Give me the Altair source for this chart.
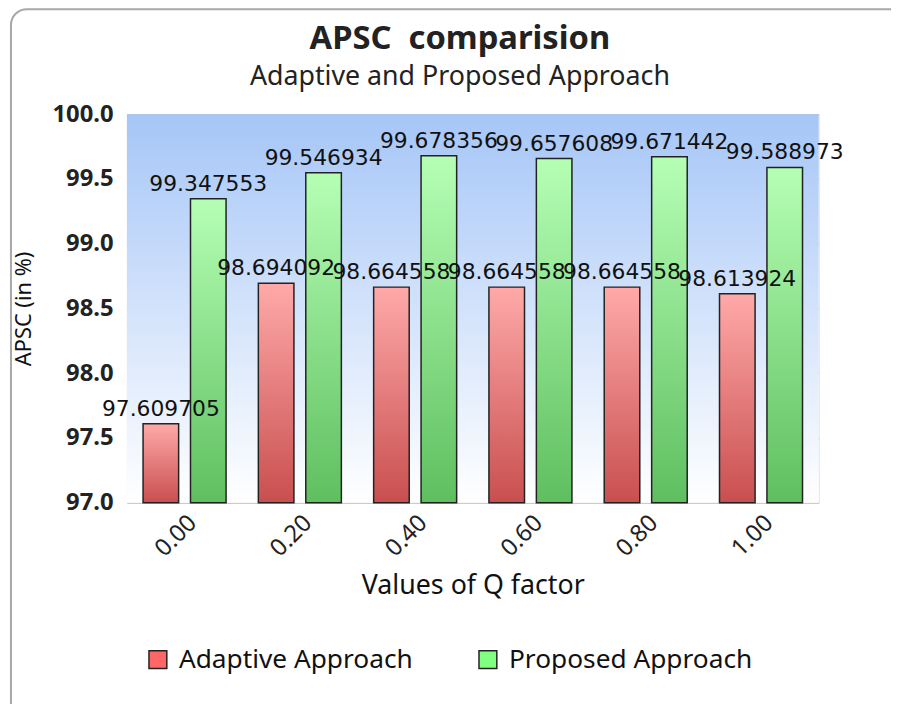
import altair as alt
import pandas as pd

q_labels = ["0.00", "0.20", "0.40", "0.60", "0.80", "1.00"]
adaptive = [97.609705, 98.694092, 98.664558, 98.664558, 98.664558, 98.613924]
proposed = [99.347553, 99.546934, 99.678356, 99.657608, 99.671442, 99.588973]
series_names = ["Adaptive Approach", "Proposed Approach"]
y_ticks = [97.0, 97.5, 98.0, 98.5, 99.0, 99.5, 100.0]
y_domain = [97.0, 100.0]

rows = []
for q, a, p in zip(q_labels, adaptive, proposed):
    rows.append({"q": q, "series": series_names[0], "value": a})
    rows.append({"q": q, "series": series_names[1], "value": p})
df = pd.DataFrame(rows)

W, H = 698, 392
FONT = "Noto Sans"

x_enc = alt.X(
    "q:N", sort=q_labels, title="Values of Q factor",
    scale=alt.Scale(paddingInner=0.28, paddingOuter=0.14),
    axis=alt.Axis(labelAngle=-45, labelFont=FONT, labelFontSize=24, labelColor="#222222",
                  ticks=False, domain=False, labelPadding=8, titleFont=FONT, titleFontSize=27,
                  titleFontWeight="normal", titleColor="#111111", titlePadding=12),
)
xo_enc = alt.XOffset("series:N", sort=series_names,
                     scale=alt.Scale(paddingInner=0.25, paddingOuter=0))
y_enc = alt.Y(
    "value:Q", title="APSC (in %)",
    scale=alt.Scale(domain=y_domain, zero=False, nice=False),
    axis=alt.Axis(values=y_ticks, format=".1f", labelFont=FONT, labelFontSize=24,
                  labelFontWeight="bold", labelColor="#222222", ticks=False, domain=False,
                  labelPadding=14, gridColor="#d0ccc4", gridWidth=1.5, titleFont=FONT,
                  titleFontSize=22, titleFontWeight="normal", titleColor="#111111",
                  titlePadding=17),
)

bg = alt.Chart(pd.DataFrame({"a": [0]})).mark_rect(
    color=alt.Gradient(gradient="linear", x1=0, y1=0, x2=0, y2=1,
                       stops=[alt.GradientStop(color="#a6c6f7", offset=0),
                              alt.GradientStop(color="#ffffff", offset=1)])
).encode(x=alt.value(0), x2=alt.value(W), y=alt.value(0), y2=alt.value(H))

frame = alt.Chart(pd.DataFrame({"a": [0]})).mark_rect(
    fill=None, stroke="#a8a8a8", strokeWidth=2, cornerRadius=16, clip=False
).encode(x=alt.value(-117), x2=alt.value(W + 120), y=alt.value(-106), y2=alt.value(H + 260))

base = alt.Chart(df).encode(x=x_enc, xOffset=xo_enc, y=y_enc)

red_grad = alt.Gradient(gradient="linear", x1=0, y1=0, x2=0, y2=1,
                        stops=[alt.GradientStop(color="#ffa9a9", offset=0),
                               alt.GradientStop(color="#c94f4f", offset=1)])
green_grad = alt.Gradient(gradient="linear", x1=0, y1=0, x2=0, y2=1,
                          stops=[alt.GradientStop(color="#b5ffb5", offset=0),
                                 alt.GradientStop(color="#5fbf5f", offset=1)])

bars_a = base.transform_filter(alt.datum.series == series_names[0]).mark_bar(
    color=red_grad, stroke="#222222", strokeWidth=1.5
).encode(y2=alt.datum(y_domain[0]))
bars_p = base.transform_filter(alt.datum.series == series_names[1]).mark_bar(
    color=green_grad, stroke="#222222", strokeWidth=1.5
).encode(y2=alt.datum(y_domain[0]))

legend_layer = base.mark_square(opacity=0, size=10).encode(
    fill=alt.Fill("series:N", sort=series_names,
                  scale=alt.Scale(domain=series_names, range=["#ff6666", "#80ff80"]),
                  legend=alt.Legend(title=None, orient="none", legendX=18, legendY=537,
                                    direction="horizontal", symbolType="square",
                                    symbolSize=324, symbolOpacity=1,
                                    symbolStrokeColor="#222222", symbolStrokeWidth=1.5,
                                    labelFont=FONT, labelFontSize=26.5, labelColor="#111111",
                                    labelOffset=8, columnPadding=62, padding=0,
                                    labelLimit=400))
)

labels = base.mark_text(font="DejaVu Sans", fontSize=22, baseline="bottom", dy=-3,
                        color="#111111").encode(text=alt.Text("value:Q", format=".6f"))

chart = alt.layer(frame, bg, bars_a, bars_p, legend_layer, labels).properties(
    width=W, height=H,
    title=alt.TitleParams("APSC\u00a0\u00a0comparision", subtitle="Adaptive and Proposed Approach",
                          font=FONT, fontSize=33, fontWeight="bold", color="#222222",
                          subtitleFont=FONT, subtitleFontSize=27, subtitleColor="#222222",
                          anchor="middle", dx=-13, offset=-83, subtitlePadding=9),
    autosize=alt.AutoSizeParams(type="none"),
    padding={"left": 120, "top": 104, "right": 73, "bottom": 200},
).configure_view(stroke="#222222", strokeWidth=1.5).configure(background="white")

chart.save("out.html", embed_options={"renderer": "svg", "actions": False})
